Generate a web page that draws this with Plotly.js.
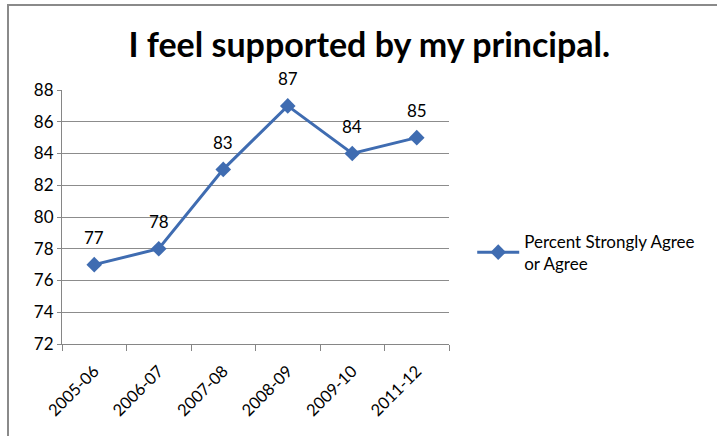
<!DOCTYPE html>
<html>
<head>
<meta charset="utf-8">
<script src="https://cdn.plot.ly/plotly-3.0.1.min.js"></script>
<style>
html,body{margin:0;padding:0;background:#fff;}
#chart{width:717px;height:436px;position:absolute;left:0;top:0;}
#frame{position:absolute;left:7px;top:4px;width:760px;height:480px;border:2px solid #8a8a8a;pointer-events:none;box-sizing:border-box;}
</style>
</head>
<body>
<div id="chart"></div>
<div id="frame"></div>
<script>
const categories = ["2005-06","2006-07","2007-08","2008-09","2009-10","2011-12"];
const values = [77,78,83,87,84,85];
const seriesName = "Percent Strongly Agree<br>or Agree";
const yTicks = [72,74,76,78,80,82,84,86,88];

const lineColor = "#3F6CB1";
const font = "Lato, 'Open Sans', sans-serif";

const trace = {
  x: categories,
  y: values,
  type: "scatter",
  mode: "lines+markers",
  name: seriesName,
  line: {color: lineColor, width: 3},
  marker: {symbol: "diamond", size: 12, color: lineColor},
  cliponaxis: false
};

const annotations = categories.map((c,i)=>({
  x: c, y: values[i], text: String(values[i]), showarrow: false,
  yshift: 27, font: {family: font, size: 17, color: "#000"}
}));

const layout = {
  width: 717, height: 436,
  margin: {l: 62, r: 268, t: 90, b: 92},
  paper_bgcolor: "#fff", plot_bgcolor: "#fff",
  title: {text: "<b>I feel supported by my principal.</b>", x: 0.515, xref: "container", xanchor: "center",
          y: 0.897, yref: "container", yanchor: "middle",
          font: {family: font, size: 34, color: "#000"}},
  xaxis: {
    type: "category", categoryorder: "array", categoryarray: categories,
    tickson: "boundaries", ticks: "outside", ticklen: 6, tickcolor: "#868686",
    showline: true, linecolor: "#868686", linewidth: 1,
    showgrid: false, tickangle: -45, ticklabelstandoff: 10,
    tickfont: {family: font, size: 16.5, color: "#000"},
    range: [-0.5, 5.5]
  },
  yaxis: {
    range: [72, 88], tickvals: yTicks, ticktext: yTicks.map(String),
    ticks: "outside", ticklen: 4, tickcolor: "#868686",
    showline: true, linecolor: "#868686", linewidth: 1,
    showgrid: true, gridcolor: "#8c8c8c", gridwidth: 1,
    zeroline: false,
    tickfont: {family: font, size: 17, color: "#000"}
  },
  showlegend: true,
  legend: {x: 1.06, xanchor: "left", y: 0.36, yanchor: "middle", itemwidth: 42,
           font: {family: font, size: 17, color: "#000"}, bgcolor: "rgba(0,0,0,0)"},
  annotations: annotations
};

Plotly.newPlot("chart", [trace], layout, {displayModeBar: false, staticPlot: true});
</script>
</body>
</html>
